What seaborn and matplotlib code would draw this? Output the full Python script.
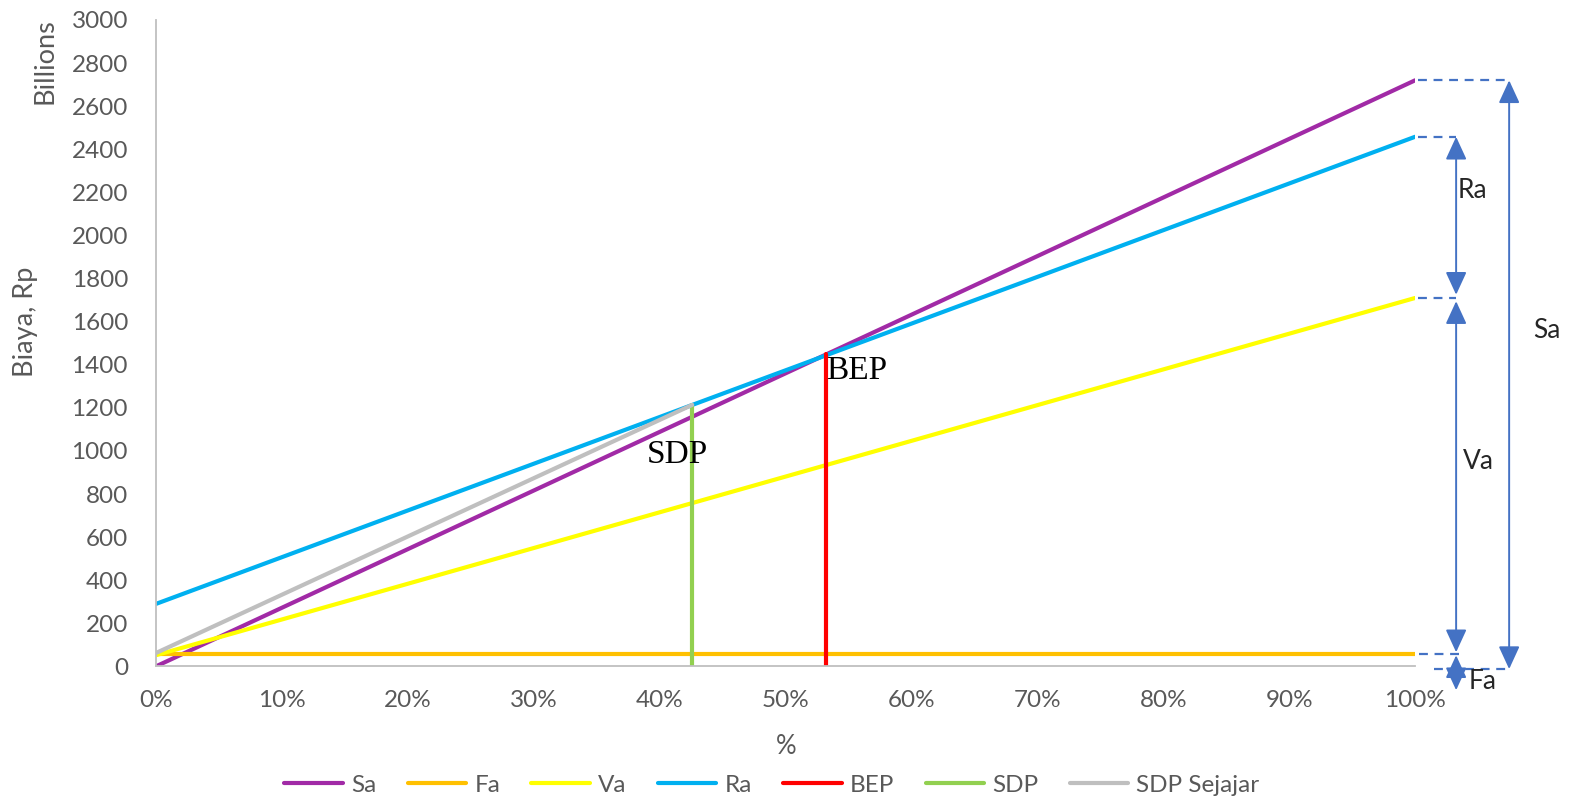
import matplotlib
matplotlib.use("Agg")
import matplotlib.pyplot as plt
import seaborn as sns
import pandas as pd

# Series values (Rp, in billions) against capacity share (0..1)
x_ends = [0.0, 1.0]
sa_vals = [0, 2720]
fa_vals = [56, 56]
va_vals = [52, 1710]
ra_vals = [290, 2458]

bep_x = 0.532
bep_top = 1448
sdp_x = 0.426
sdp_top = 1214
sejajar_start = 62

series_names = ["Sa", "Fa", "Va", "Ra", "BEP", "SDP", "SDP Sejajar"]
series_colors = ["#A12AA6", "#FFC000", "#FFFF00", "#00B0F0", "#FF0000", "#92D050", "#BFBFBF"]

y_ticks = list(range(0, 3001, 200))
x_ticks = [i / 10 for i in range(11)]
x_ticklabels = [f"{i * 10}%" for i in range(11)]

rows = []
for name, xs, ys in [
    ("Sa", x_ends, sa_vals),
    ("Fa", x_ends, fa_vals),
    ("Va", x_ends, va_vals),
    ("Ra", x_ends, ra_vals),
    ("BEP", [bep_x, bep_x], [0, bep_top]),
    ("SDP", [sdp_x, sdp_x], [0, sdp_top]),
    ("SDP Sejajar", [0.0, sdp_x], [sejajar_start, sdp_top]),
]:
    for i, (xv, yv) in enumerate(zip(xs, ys)):
        rows.append({"series": name, "x": xv, "y": yv, "order": i})
df = pd.DataFrame(rows)

sns.set_theme(style="white")
plt.rcParams["font.family"] = ["Lato", "DejaVu Sans"]

fig = plt.figure(figsize=(15.73, 8.06), dpi=100)
ax = fig.add_axes([0.099, 0.1731, 0.8006, 0.8021])

sns.lineplot(data=df, x="x", y="y", hue="series", hue_order=series_names,
             palette=dict(zip(series_names, series_colors)), units="series",
             estimator=None, sort=False, linewidth=3.0, ax=ax, legend=True)

ax.set_xlim(0, 1)
ax.set_ylim(0, 3000)
ax.set_yticks(y_ticks)
ax.set_yticklabels([str(v) for v in y_ticks])
ax.set_xticks(x_ticks)
ax.set_xticklabels(x_ticklabels)
ax.tick_params(axis="both", length=0, labelsize=17.5, labelcolor="#595959")
ax.tick_params(axis="y", pad=20)
ax.tick_params(axis="x", pad=17)
for s in ["top", "right"]:
    ax.spines[s].set_visible(False)
for s in ["left", "bottom"]:
    ax.spines[s].set_color("#BFBFBF")
    ax.spines[s].set_linewidth(1.3)
ax.set_xlabel("")
ax.set_ylabel("")

fig.text(786 / 1573, 1 - 746 / 806, "%", ha="center", va="center", fontsize=18.5, color="#595959")
fig.text(25 / 1573, 1 - 322 / 806, "Biaya, Rp", rotation=90, ha="center", va="center",
         fontsize=19.5, color="#595959")
fig.text(45 / 1573, 1 - 61 / 806, "Billions", rotation=90, ha="center", va="center",
         fontsize=19.5, color="#595959")

# Point labels
ax.text(bep_x, 1334, "BEP", family="Liberation Serif", fontsize=24, ha="left", va="baseline", color="black")
ax.text(sdp_x - 0.036, 943, "SDP", family="Liberation Serif", fontsize=24, ha="left", va="baseline", color="black")

# Dimension arrows to the right of the plot
blue = "#4472C4"
arrow_style = "<|-|>,head_length=1.0,head_width=0.46"


def dim_arrow(xv, y0, y1):
    ax.annotate("", xy=(xv, y1), xytext=(xv, y0), annotation_clip=False,
                arrowprops=dict(arrowstyle=arrow_style, color=blue, lw=1.4,
                                mutation_scale=14, shrinkA=0, shrinkB=0))


def dash(x0, x1, yv):
    ax.plot([x0, x1], [yv, yv], color=blue, lw=1.6, ls=(0, (4, 3)), clip_on=False)


x_inner = 1.0326
x_outer = 1.0747
dash(1.0024, x_outer, sa_vals[1])
dash(1.0024, x_inner, ra_vals[1])
dash(1.0024, x_inner, va_vals[1])
dash(1.0035, 1.036, fa_vals[1])
dash(1.015, x_outer, -12)

dim_arrow(x_outer, -12, sa_vals[1])
dim_arrow(x_inner, va_vals[1] + 15, ra_vals[1])
dim_arrow(x_inner, fa_vals[1] + 10, va_vals[1] - 15)
dim_arrow(x_inner, -110, fa_vals[1] - 4)

ax.text(1.0454, 2211, "Ra", fontsize=19, ha="center", va="center", clip_on=False)
ax.text(1.0502, 949, "Va", fontsize=19, ha="center", va="center", clip_on=False)
ax.text(1.1045, 1561, "Sa", fontsize=19, ha="center", va="center", clip_on=False)
ax.text(1.0535, -72, "Fa", fontsize=19, ha="center", va="center", clip_on=False)

# Legend at the bottom
handles, labels = ax.get_legend_handles_labels()
ax.legend_.remove()
leg = fig.legend(handles, labels, loc="center", bbox_to_anchor=(772 / 1573, 1 - 785 / 806),
                 ncol=7, frameon=False, fontsize=17.5, handlelength=2.4, handletextpad=0.35,
                 columnspacing=1.28)
for t in leg.get_texts():
    t.set_color("#595959")
for h in leg.legend_handles:
    h.set_linewidth(3.0)

fig.savefig("out.png", dpi=100)
